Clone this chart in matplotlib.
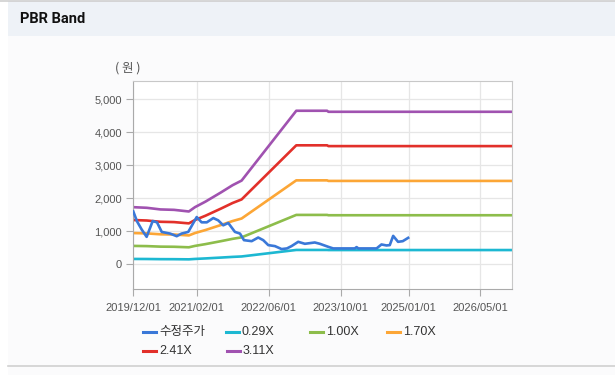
import matplotlib.pyplot as plt
import matplotlib.dates as mdates
from matplotlib.lines import Line2D
from matplotlib.patches import Rectangle
import pandas as pd

# price (수정주가)
price_dates = ['2019-12-01', '2019-12-26', '2020-01-27', '2020-02-29', '2020-04-10',
               '2020-05-09', '2020-06-10', '2020-08-05', '2020-09-19', '2020-10-22',
               '2020-12-06', '2021-02-01', '2021-03-06', '2021-04-10', '2021-05-24',
               '2021-06-26', '2021-07-30', '2021-09-02', '2021-10-17', '2021-11-20',
               '2021-12-17', '2022-02-07', '2022-03-23', '2022-04-26', '2022-05-30',
               '2022-07-14', '2022-08-28', '2022-10-03', '2022-11-03', '2022-12-18',
               '2023-02-01', '2023-04-09', '2023-05-13', '2023-07-08', '2023-08-11',
               '2024-01-04', '2024-01-16', '2024-01-28', '2024-05-30', '2024-07-02',
               '2024-08-05', '2024-08-27', '2024-09-19', '2024-10-22', '2024-11-23',
               '2024-12-29']
price = [1600, 1300, 1050, 830, 1310,
         1270, 980, 930, 850, 930,
         980, 1430, 1270, 1270, 1400,
         1330, 1180, 1250, 980, 930,
         730, 700, 810, 730, 580,
         550, 460, 480, 550, 680,
         620, 660, 620, 530, 480,
         480, 520, 480, 480, 600,
         570, 580, 860, 680, 700,
         800]

# BPS (1.00X band)
bps_dates = ['2019-12-01', '2020-03-01', '2020-06-01', '2020-09-01', '2020-11-15',
             '2020-12-10', '2021-01-20', '2021-04-01', '2021-07-15', '2021-10-01',
             '2021-12-01', '2022-12-05', '2023-07-01', '2023-07-10', '2026-11-28']
bps = [556, 550, 534, 530, 518,
       514, 556, 610, 700, 770,
       815, 1495, 1495, 1485, 1485]

multiples = [0.29, 1.00, 1.70, 2.41, 3.11]
band_labels = ['0.29X', '1.00X', '1.70X', '2.41X', '3.11X']
band_colors = ['#1db8d2', '#8dbd4b', '#fca636', '#e2302a', '#a052b0']
price_color = '#3a78d8'

xtick_dates = ['2019/12/01', '2021/02/01', '2022/06/01', '2023/10/01', '2025/01/01', '2026/05/01']
yticks = [0, 1000, 2000, 3000, 4000, 5000]

W, H = 615, 375
fig = plt.figure(figsize=(W / 100, H / 100), dpi=100)
fig.patch.set_facecolor('white')

# panel background, header band, borders
fig.add_artist(Rectangle((8 / W, 0), 1, 1 - 9 / H, transform=fig.transFigure,
                         facecolor='#fbfbfc', edgecolor='none', zorder=-3))
fig.add_artist(Rectangle((8 / W, 1 - 36 / H), 1, 35 / H, transform=fig.transFigure,
                         facecolor='#eef2f7', edgecolor='none', zorder=-2))
fig.add_artist(Line2D([0, 1], [1 - 0.8 / H, 1 - 0.8 / H], transform=fig.transFigure,
                      color='#cfcfcf', lw=1.2))
fig.add_artist(Line2D([8 / W, 1], [1 - 366 / H, 1 - 366 / H], transform=fig.transFigure,
                      color='#d0d0d0', lw=1.2))
fig.text(20 / W, 1 - 19 / H, 'PBR Band', fontsize=10.5, fontweight='bold',
         family=['Roboto', 'DejaVu Sans'], color='#111111', va='center', ha='left')

ax = fig.add_axes([133.3 / W, 1 - 288.7 / H, (511.7 - 133.3) / W, (288.7 - 80.7) / H])
ax.set_facecolor('white')

bd = pd.to_datetime(bps_dates)
for m, lab, c in zip(multiples, band_labels, band_colors):
    ax.plot(bd, [b * m for b in bps], color=c, lw=1.9, label=lab, zorder=2)
ax.plot(pd.to_datetime(price_dates), price, color=price_color, lw=1.9,
        label='수정주가', zorder=3)

ax.set_xlim(pd.Timestamp('2019-12-01'), pd.Timestamp('2026-11-28'))
ax.set_ylim(-740, 5560)
ax.set_xticks(pd.to_datetime(xtick_dates, format='%Y/%m/%d'))
ax.xaxis.set_major_formatter(mdates.DateFormatter('%Y/%m/%d'))
ax.set_yticks(yticks)
ax.set_yticklabels([f'{v:,}' for v in yticks])

ax.grid(True, color='#e6e6e6', lw=0.9, zorder=0)
ax.set_axisbelow(True)
for s in ax.spines.values():
    s.set_color('#c8c8c8')
ax.spines['left'].set_color('#aaaaaa')
ax.spines['bottom'].set_color('#aaaaaa')
ax.tick_params(axis='both', length=5, color='#aaaaaa', labelcolor='#555555',
               labelsize=8)
ax.tick_params(axis='x', pad=5)
ax.tick_params(axis='y', pad=3)
for t in ax.get_xticklabels() + ax.get_yticklabels():
    t.set_family(['Liberation Sans', 'DejaVu Sans'])

fig.text(128 / W, 1 - 68 / H, '( 원 )', fontsize=9, color='#555555', ha='center',
         va='center', family=['Noto Sans CJK KR', 'DejaVu Sans'])

# legend, laid out like the reference
leg_items = [('수정주가', price_color)] + list(zip(band_labels, band_colors))
leg_x = [143, 226, 310, 387, 143, 227]
leg_y = [332, 332, 332, 332, 351, 351]
for (lab, c), x0, y0 in zip(leg_items, leg_x, leg_y):
    fig.add_artist(Line2D([x0 / W, (x0 + 13) / W], [1 - y0 / H, 1 - y0 / H],
                          transform=fig.transFigure, color=c, lw=2.2))
    fig.text((x0 + 16) / W, 1 - y0 / H, lab, fontsize=9, color='#333333',
             va='center', ha='left', family=['Liberation Sans', 'Noto Sans CJK KR'])

fig.savefig('out.png', dpi=100)
